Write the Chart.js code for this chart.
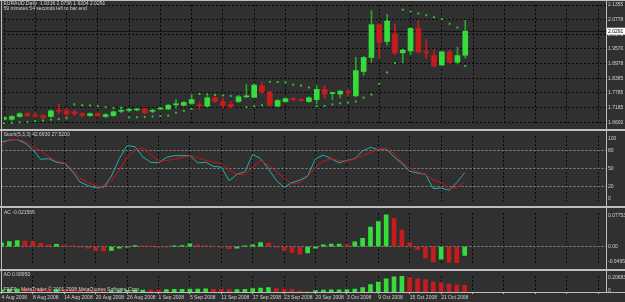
<!DOCTYPE html>
<html>
<head>
<meta charset="utf-8">
<script src="https://cdn.jsdelivr.net/npm/chart.js@4.4.1/dist/chart.umd.min.js"></script>
<style>
  html, body { margin: 0; padding: 0; width: 625px; height: 302px; overflow: hidden; background: #303030; }
  canvas { position: absolute; left: 0; }
  .sep { position: absolute; background: #bdbdbd; }
</style>
</head>
<body>
<canvas id="priceChart" width="625" height="129" style="top:0px"></canvas>
<canvas id="stochChart" width="625" height="75" style="top:131px"></canvas>
<canvas id="acChart" width="625" height="61" style="top:208px"></canvas>
<canvas id="aoChart" width="625" height="31" style="top:271px"></canvas>

<div class="sep" style="left:0;top:0;width:625px;height:1px"></div>
<div class="sep" style="left:0;top:129px;width:625px;height:2px"></div>
<div class="sep" style="left:0;top:206px;width:625px;height:2px"></div>
<div class="sep" style="left:0;top:269px;width:625px;height:2px"></div>
<div class="sep" style="left:0;top:292px;width:625px;height:1px"></div>
<div class="sep" style="left:1px;top:0;width:1px;height:293px"></div>
<div class="sep" style="left:606px;top:0;width:1px;height:293px"></div>

<script>
// ============================================
// Data - EURAUD daily, 4 Aug 2008 .. 24 Oct 2008
// ============================================
const dates = [
  "4 Aug 2008", "5 Aug 2008", "6 Aug 2008", "7 Aug 2008", "8 Aug 2008",
  "11 Aug 2008", "12 Aug 2008", "13 Aug 2008", "14 Aug 2008", "15 Aug 2008",
  "18 Aug 2008", "19 Aug 2008", "20 Aug 2008", "21 Aug 2008", "22 Aug 2008",
  "25 Aug 2008", "26 Aug 2008", "27 Aug 2008", "28 Aug 2008", "29 Aug 2008",
  "1 Sep 2008", "2 Sep 2008", "3 Sep 2008", "4 Sep 2008", "5 Sep 2008",
  "8 Sep 2008", "9 Sep 2008", "10 Sep 2008", "11 Sep 2008", "12 Sep 2008",
  "15 Sep 2008", "16 Sep 2008", "17 Sep 2008", "18 Sep 2008", "19 Sep 2008",
  "22 Sep 2008", "23 Sep 2008", "24 Sep 2008", "25 Sep 2008", "26 Sep 2008",
  "29 Sep 2008", "30 Sep 2008", "1 Oct 2008", "2 Oct 2008", "3 Oct 2008",
  "6 Oct 2008", "7 Oct 2008", "8 Oct 2008", "9 Oct 2008", "10 Oct 2008",
  "13 Oct 2008", "14 Oct 2008", "15 Oct 2008", "16 Oct 2008", "17 Oct 2008",
  "20 Oct 2008", "21 Oct 2008", "22 Oct 2008", "23 Oct 2008", "24 Oct 2008",
]

const open = [
  1.6716, 1.6716, 1.6830, 1.6944, 1.6868, 1.6868, 1.6830, 1.7059, 1.7059, 1.7021,
  1.6944, 1.6868, 1.6944, 1.6830, 1.6868, 1.7040, 1.7078, 1.7097, 1.7135, 1.7040,
  1.7135, 1.7135, 1.7306, 1.7287, 1.7363, 1.7306, 1.7249, 1.7591, 1.7439, 1.7325,
  1.7439, 1.7629, 1.7610, 1.8085, 1.7819, 1.7249, 1.7439, 1.7553, 1.7515, 1.7439,
  1.7515, 1.7933, 1.7762, 1.7743, 1.7838, 1.7667, 1.8655, 1.9226, 2.0557, 1.9872,
  2.0176, 1.9416, 1.9492, 2.0404, 1.9454, 1.9302, 1.8922, 1.9454, 1.9036, 1.9316,
]
const high = [
  1.6830, 1.6868, 1.6983, 1.6983, 1.6983, 1.6906, 1.7097, 1.7325, 1.7173, 1.7097,
  1.6983, 1.6983, 1.6983, 1.6944, 1.7059, 1.7173, 1.7173, 1.7173, 1.7173, 1.7135,
  1.7211, 1.7325, 1.7515, 1.7439, 1.7743, 1.7401, 1.7629, 1.7629, 1.7591, 1.7439,
  1.7667, 1.8123, 1.8161, 1.8237, 1.7857, 1.7515, 1.7591, 1.7591, 1.7553, 1.7629,
  1.8085, 1.8085, 1.7819, 1.7895, 1.7933, 1.9226, 1.9264, 2.1127, 2.0595, 2.0975,
  2.0595, 1.9568, 2.0442, 2.0709, 1.9948, 1.9530, 1.9492, 1.9530, 1.9644, 2.0736,
]
const low = [
  1.6678, 1.6678, 1.6792, 1.6830, 1.6792, 1.6754, 1.6792, 1.6944, 1.6792, 1.6868,
  1.6830, 1.6830, 1.6830, 1.6792, 1.6830, 1.6983, 1.7021, 1.7059, 1.6944, 1.6983,
  1.7097, 1.7097, 1.7173, 1.7249, 1.7325, 1.7135, 1.7211, 1.7401, 1.7173, 1.7173,
  1.7401, 1.7591, 1.7591, 1.7781, 1.7249, 1.7211, 1.7401, 1.7477, 1.7439, 1.7401,
  1.7363, 1.7553, 1.7515, 1.7591, 1.7667, 1.7629, 1.8503, 1.9036, 1.9188, 1.9720,
  1.9340, 1.8998, 1.9340, 1.9416, 1.9188, 1.8846, 1.8884, 1.8960, 1.8960, 1.9204,
]
const close = [
  1.6792, 1.6830, 1.6944, 1.6868, 1.6849, 1.6792, 1.7059, 1.7040, 1.6944, 1.6944,
  1.6868, 1.6944, 1.6868, 1.6906, 1.7021, 1.7078, 1.7116, 1.7135, 1.6983, 1.7078,
  1.7173, 1.7287, 1.7344, 1.7401, 1.7515, 1.7268, 1.7591, 1.7439, 1.7287, 1.7211,
  1.7629, 1.7667, 1.8104, 1.7819, 1.7287, 1.7477, 1.7553, 1.7515, 1.7477, 1.7591,
  1.7933, 1.7743, 1.7781, 1.7857, 1.7800, 1.8693, 1.9226, 2.0557, 1.9834, 2.0709,
  1.9416, 1.9530, 2.0404, 1.9454, 1.9416, 1.8884, 1.9454, 1.9036, 1.9302, 2.0291,
]

// Parabolic SAR dots
const sar = [
  1.6560, 1.6575, 1.6600, 1.6610, 1.6640, 1.6670, 1.6700, 1.6730, 1.6760, 1.7325,
  1.7287, 1.7280, 1.7249, 1.7211, 1.7173, 1.7190, 1.6792, 1.6800, 1.6810, 1.6830,
  1.6850, 1.6868, 1.6983, 1.7059, 1.7135, 1.7743, 1.7724, 1.7705, 1.7686, 1.7667,
  1.7650, 1.7211, 1.7249, 1.7287, 1.8237, 1.8230, 1.8218, 1.8123, 1.8085, 1.8009,
  1.7249, 1.7260, 1.7325, 1.7363, 1.7401, 1.7439, 1.7600, 1.7720, 1.8161, 1.8617,
  1.8998, 2.1165, 2.1089, 2.1013, 2.0937, 2.0861, 2.0785, 2.0595, 2.0442, 1.8884,
]

// Stochastic (5,3,3)
const stochMain = [
  94, 97, 98, 92, 81, 65, 66, 60, 58, 45, 27, 21, 17, 18, 37, 66, 88, 86, 69, 60,
  59, 68, 71, 71, 71, 59, 60, 53, 52, 29, 40, 44, 73, 66, 49, 30, 18, 26, 30, 37,
  66, 72, 66, 59, 63, 66, 79, 85, 81, 82, 69, 58, 45, 42, 40, 16, 17, 13, 26, 42.693,
]
const stochSignal = [
  88, 98, 98, 95, 86, 79, 69, 62, 59, 49, 33, 26, 21, 17, 29, 47, 68, 81, 84, 73,
  62, 63, 65, 68, 71, 68, 63, 60, 58, 47, 40, 39, 52, 63, 55, 45, 33, 24, 26, 36,
  52, 62, 66, 63, 62, 66, 71, 76, 82, 82, 75, 60, 50, 44, 39, 31, 26, 16, 18, 27.52,
]

// Accelerator oscillator
const ac = [
  0.0096, 0.0122, 0.0149, 0.0137, 0.0129, 0.0082, 0.0047, 0.0055, 0.0035, 0.0014,
  -0.0006, -0.0035, -0.0088, -0.0102, -0.0088, -0.0035, -0.0006, 0.0027, 0.0020, 0.0006,
  -0.0006, -0.0010, 0.0020, 0.0027, 0.0067, 0.0047, 0.0020, 0.0004, -0.0006, -0.0047,
  -0.0035, 0.0020, 0.0047, 0.0102, 0.0088, -0.0006, -0.0088, -0.0137, -0.0184, -0.0149,
  -0.0035, 0.0047, 0.0061, 0.0063, 0.0047, 0.0116, 0.0204, 0.0476, 0.0612, 0.0775,
  0.0694, 0.0408, 0.0102, -0.0067, -0.0271, -0.0373, -0.0306, -0.0380, -0.0388, -0.021566,
]

// Awesome oscillator
const ao = [
  0.030, 0.034, 0.038, 0.036, 0.033, 0.031, 0.030, 0.031, 0.029, 0.026,
  0.022, 0.018, 0.014, 0.012, 0.013, 0.017, 0.022, 0.026, 0.027, 0.026,
  0.025, 0.033, 0.034, 0.036, 0.039, 0.040, 0.041, 0.036, 0.034, 0.031,
  0.033, 0.036, 0.046, 0.052, 0.059, 0.046, 0.039, 0.033, 0.013, 0.007,
  0.020, 0.027, 0.028, 0.030, 0.031, 0.040, 0.059, 0.099, 0.131, 0.174,
  0.200, 0.20683, 0.190, 0.174, 0.164, 0.135, 0.125, 0.105, 0.0905, 0.0895,
]

// Axis tick labels
const priceTicks = [2.1355, 2.0778, 2.0170, 1.9570, 1.8978, 1.8385, 1.7785, 1.7185, 1.6600]
const stochTicks = [100, 80, 50, 20, 0]
const stochLevels = [80, 50, 20]
const acTicks = [0.07753, 0, -0.04952]
const acTickLabels = ["0.07753", "0.00", "-0.04952"]
const aoTicks = [0.20683, 0]
const aoTickLabels = ["0.20683", "0"]

const header = "EURAUD,Daily  1.9316 2.0736 1.9204 2.0291"
const timerText = "59 minutes 54 seconds left to bar end"
const stochTitle = "Stoch(5,3,3) 42.6930 27.5200"
const acTitle = "AC -0.021566"
const aoTitle = "AO 0.08950"
const footer = "F9/F0 - MetaTrader \u00a9 2001-2008 MetaQuotes Software Corp."

// ============================================
// Look & layout
// ============================================
const EMPTY_SLOTS = 18 // chart shift on the right
const AXIS_W = 19
const FONT = { family: '"Liberation Sans", Arial, sans-serif', size: 5 }
const COLORS = {
  text: "#d2d2d2",
  up: "#35dc3c",
  down: "#c81c1c",
  upWick: "#25a82b",
  downWick: "#c81c1c",
  sar: "#2cc52c",
  grid: "rgba(0,0,0,0.85)",
  level: "#8a8a8a",
  sep: "#bdbdbd",
  stochMain: "#20b2aa",
  stochSignal: "#d01414",
  priceLine: "#141414",
}

const slots = dates.concat(new Array(EMPTY_SLOTS).fill(""))
const risingColors = (arr) => arr.map((v, i) => (i === 0 || v > arr[i - 1] ? COLORS.up : COLORS.down))

// ============================================
// Plugins
// ============================================
const panelText = {
  id: "panelText",
  afterDraw(chart, args, opts) {
    const ctx = chart.ctx
    ctx.save()
    ctx.font = `${FONT.size}px ${FONT.family}`
    ctx.fillStyle = COLORS.text
    ctx.textBaseline = "middle"
    ;(opts.lines || []).forEach((l) => ctx.fillText(l.text, l.x, l.y))
    ctx.restore()
  },
}

// current price line + highlighted price label on the axis
const priceMarker = {
  id: "priceMarker",
  beforeDatasetsDraw(chart) {
    const { ctx, chartArea, scales } = chart
    const y = Math.round(scales.y.getPixelForValue(close[close.length - 1])) + 0.5
    ctx.save()
    ctx.strokeStyle = COLORS.priceLine
    ctx.lineWidth = 1
    ctx.beginPath()
    ctx.moveTo(chartArea.left, y)
    ctx.lineTo(chartArea.right, y)
    ctx.stroke()
    ctx.restore()
  },
  afterDraw(chart) {
    const { ctx, chartArea, scales } = chart
    const last = close[close.length - 1]
    const y = scales.y.getPixelForValue(last)
    ctx.save()
    ctx.fillStyle = "#ffffff"
    ctx.fillRect(chartArea.right, y - 3.5, AXIS_W, 7)
    ctx.fillStyle = "#000000"
    ctx.font = `${FONT.size}px ${FONT.family}`
    ctx.textBaseline = "middle"
    ctx.fillText(last.toFixed(4), chartArea.right + 2, y)
    ctx.restore()
  },
}

// ============================================
// Axis helpers
// ============================================
function xAxis(showLabels) {
  return {
    offset: false,
    afterFit: (s) => { s.height = showLabels ? 10 : 0 },
    ticks: {
      display: showLabels,
      autoSkip: false,
      maxRotation: 0,
      minRotation: 0,
      align: "start",
      padding: 1,
      color: COLORS.text,
      font: FONT,
      callback: (v, i) => (i % 4 === 0 && dates[i]) || "",
    },
    grid: {
      offset: false,
      drawTicks: showLabels,
      tickLength: 2,
      color: (c) => (c.index % 4 === 0 ? COLORS.grid : "transparent"),
      tickColor: (c) => (c.index % 4 === 0 ? COLORS.sep : "transparent"),
    },
    border: { display: false, dash: [2, 2] },
  }
}

function yAxis(min, max, ticks, labels, pad, gridColor) {
  return {
    position: "right",
    min: min,
    max: max,
    afterFit: (s) => { s.width = AXIS_W },
    afterBuildTicks: (s) => {
      s.ticks = ticks.map((v) => ({ value: Math.min(Math.max(v, min + pad), max - pad) }))
    },
    ticks: {
      autoSkip: false,
      padding: 2,
      color: COLORS.text,
      font: FONT,
      callback: (v, i) => labels[i],
    },
    grid: { drawTicks: false, color: gridColor },
    border: { display: false, dash: [2, 2] },
  }
}

function makeChart(id, type, datasets, y, showLabels, lines, topPad, extra) {
  return new Chart(document.getElementById(id).getContext("2d"), {
    type: type,
    data: { labels: slots, datasets: datasets },
    options: {
      responsive: false,
      animation: false,
      events: [],
      layout: { padding: { left: 1.5, right: 0, top: topPad, bottom: 0 } },
      scales: { x: xAxis(showLabels), y: y },
      plugins: {
        legend: { display: false },
        tooltip: { enabled: false },
        panelText: { lines: lines },
      },
    },
    plugins: [panelText].concat(extra || []),
  })
}

// ============================================
// Price panel (candles + parabolic SAR)
// ============================================
const candleUp = open.map((o, i) => close[i] >= o)
makeChart(
  "priceChart",
  "bar",
  [
    {
      label: "Body",
      data: open.map((o, i) => [Math.min(o, close[i]), Math.max(o, close[i])]),
      backgroundColor: candleUp.map((u) => (u ? COLORS.up : COLORS.down)),
      barThickness: 5,
      minBarLength: 1,
      grouped: false,
      order: 1,
    },
    {
      label: "Wick",
      data: low.map((l, i) => [l, high[i]]),
      backgroundColor: candleUp.map((u) => (u ? COLORS.upWick : COLORS.downWick)),
      barThickness: 1,
      grouped: false,
      order: 2,
    },
    {
      type: "line",
      label: "SAR",
      data: sar,
      showLine: false,
      pointStyle: "rect",
      pointRadius: 1.4,
      pointBorderWidth: 0,
      pointBackgroundColor: COLORS.sar,
      order: 0,
    },
  ],
  yAxis(1.6526, 2.1355, priceTicks, priceTicks.map((v) => v.toFixed(4)), 0, COLORS.grid),
  false,
  [
    { text: header, x: 3.5, y: 3.7 },
    { text: timerText, x: 3.5, y: 8.5 },
  ],
  2,
  [priceMarker]
)

// ============================================
// Stochastic panel
// ============================================
makeChart(
  "stochChart",
  "line",
  [
    { label: "Signal", data: stochSignal, borderColor: COLORS.stochSignal, borderWidth: 1, pointRadius: 0, tension: 0, order: 0 },
    { label: "Main", data: stochMain, borderColor: COLORS.stochMain, borderWidth: 1, pointRadius: 0, tension: 0, order: 1 },
  ],
  yAxis(-4.8, 103.9, stochTicks, stochTicks.map(String), 0,
    (c) => (stochLevels.includes(c.tick.value) ? COLORS.level : "transparent")),
  false,
  [{ text: stochTitle, x: 3.5, y: 4 }],
  0
)

// ============================================
// AC panel
// ============================================
makeChart(
  "acChart",
  "bar",
  [{ label: "AC", data: ac, backgroundColor: risingColors(ac), barThickness: 4 }],
  yAxis(-0.0422, 0.0822, acTicks, acTickLabels, 0.0067,
    (c) => (c.tick.value === 0 ? COLORS.level : "transparent")),
  false,
  [{ text: acTitle, x: 4, y: 4.3 }],
  0
)

// ============================================
// AO panel (+ date axis)
// ============================================
makeChart(
  "aoChart",
  "bar",
  [{ label: "AO", data: ao, backgroundColor: risingColors(ao), barThickness: 4 }],
  yAxis(0, 0.212, aoTicks, aoTickLabels, 0.02, "transparent"),
  true,
  [
    { text: aoTitle, x: 3.5, y: 4 },
    { text: footer, x: 3.5, y: 18.3 },
  ],
  0
)
</script>
</body>
</html>
